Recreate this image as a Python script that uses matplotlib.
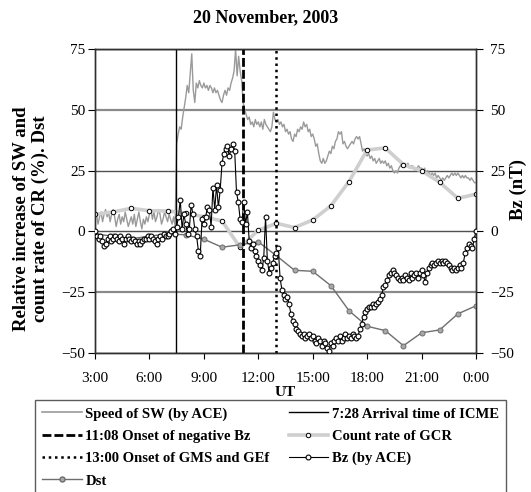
import numpy as np
import matplotlib
matplotlib.use("Agg")
import matplotlib.pyplot as plt
from matplotlib.lines import Line2D

plt.rcParams['font.family'] = ['Liberation Serif', 'DejaVu Serif']

# ---------------------------------------------
# data (hours UT, 3:00 .. 24:00)
# ---------------------------------------------

# speed of solar wind, relative increase (%), 5-minute steps from 3:00
sw_speed = [
    5, 7, 3, 6, 8, 4, 7, 9, 6, 8, 4, 7,
    9, 6, 2, 5, 7, 3, 6, 4, 8, 5, 2, 4,
    6, 3, 7, 2, 5, 8, 4, 1, 5, 3, 6, 4,
    7, 9, 5, 8, 4, 6, 9, 7, 3, 5, 8, 6,
    4, 7, 5, 3, 6, 2, 36, 40, 43, 42, 47, 51,
    55, 60, 57, 65, 73, 58, 53, 61, 59, 62, 60, 59,
    61, 59, 60, 58, 60, 59, 57, 59, 57, 58, 56, 54,
    53, 56, 58, 56, 59, 58, 61, 63, 66, 75, 64, 72,
    66, 62, 53, 50, 48, 46, 47, 44, 45, 43, 46, 44,
    45, 43, 45, 42, 46, 44, 43, 42, 41, 43, 49, 46,
    45, 46, 44, 45, 43, 44, 41, 42, 40, 41, 38, 37,
    40, 39, 42, 41, 43, 42, 45, 43, 44, 41, 42, 39,
    40, 38, 35, 36, 32, 29, 28, 30, 28, 29, 31, 33,
    32, 35, 34, 37, 38, 41, 40, 41, 36, 37, 35, 34,
    35, 36, 37, 36, 38, 39, 38, 39, 36, 33, 34, 32,
    31, 32, 30, 31, 29, 30, 28, 29, 30, 28, 29, 28,
    29, 27, 28, 26, 27, 25, 24, 25, 24, 26, 27, 28,
    27, 28, 27, 28, 26, 27, 27, 26, 25, 26, 27, 26,
    26, 25, 26, 24, 25, 24, 23, 24, 23, 24, 22, 23,
    22, 21, 22, 21, 22, 23, 22, 23, 24, 23, 24, 23,
    24, 23, 22, 23, 22, 23, 22, 22, 21, 22, 21, 20,
    20,
]

# Bz by ACE (nT), 6-minute steps from 3:00
bz = [
    0, -2, -3, -2, -4, -6, -5, -3, -2, -4,
    -3, -2, -3, -4, -2, -3, -5, -3, -2, -3,
    -4, -3, -4, -5, -4, -5, -4, -3, -3, -2,
    -3, -2, -3, -4, -5, -3, -2, -3, -1, -2,
    -2, -1, 0, 1, -1, 2, 6, 13, 1, 7,
    3, -1, 1, 11, 7, 1, -2, -8, -10, 5,
    3, 6, 10, 9, 2, 18, 9, 19, 10, 17,
    28, 32, 34, 35, 31, 34, 36, 33, 16, 12,
    5, 4, 12, 3, 8, -4, -7, -5, -8, -10,
    -12, -14, -16, -11, 6, -12, -17, -15, -13, -10,
    -9, -7, -19, -24, -26, -28, -27, -30, -34, -37,
    -38, -40, -41, -42, -43, -42, -44, -43, -42, -44,
    -43, -45, -46, -44, -45, -47, -45, -46, -48, -49,
    -46, -47, -45, -44, -45, -43, -45, -44, -42, -44,
    -43, -44, -42, -43, -44, -43, -40, -38, -35, -33,
    -32, -31, -31, -30, -31, -30, -29, -28, -26, -23,
    -22, -20, -18, -17, -16, -17, -18, -19, -20, -19,
    -20, -18, -19, -20, -17, -19, -18, -17, -19, -17,
    -16, -18, -21, -17, -15, -14, -13, -14, -13, -12,
    -13, -12, -13, -12, -13, -14, -15, -16, -15, -16,
    -15, -14, -15, -13, -9, -7, -5, -6, -7, -3,
    0,
]

# hourly values, 3:00 .. 24:00
gcr_rate = [7, 8, 9.5, 8.5, 8.4, 7.5, 6, 4.3, -6.6, 0.5, 3.3,
            1.6, 4.7, 10.5, 20.5, 33.5, 34.3, 27.5, 24.9, 20.2, 13.6, 15.3]
dst = [-1, -2, -3, -2, -1, -1.4, -3.2, -6.5, -5.5, -4.3, -10,
       -16, -16.4, -22.3, -32.6, -39, -40.8, -47, -41.7, -40.5, -33.9, -30.6]

t_sw = 3 + np.arange(len(sw_speed)) / 12
t_bz = 3 + np.arange(len(bz)) / 10
t_hour = 3 + np.arange(len(dst))

icme_time = 7 + 28 / 60
bz_onset = 11 + 8 / 60
gms_onset = 13.0

xticks = [3, 6, 9, 12, 15, 18, 21, 24]
xtick_labels = ["3:00", "6:00", "9:00", "12:00", "15:00", "18:00", "21:00", "0:00"]
yticks = [-50, -25, 0, 25, 50, 75]

dash_style = (0, (3.2, 1.1))
dot_style = (0, (1, 1.5))

# ---------------------------------------------
# plot
# ---------------------------------------------

fig = plt.figure(figsize=(5.31, 4.92), dpi=100)
ax = fig.add_axes([95 / 531, 1 - 353 / 492, (476 - 95) / 531, (353 - 49) / 492])

ax.plot(t_sw, sw_speed, color="#9a9a9a", lw=1.0, zorder=3)
ax.plot(t_hour, gcr_rate, color="#cfcfcf", lw=2.6, marker="o", ms=3.2,
        mfc="white", mec="black", mew=0.7, zorder=4)
ax.plot(t_hour, dst, color="#6e6e6e", lw=1.0, marker="o", ms=3.6,
        mfc="#a8a8a8", mec="#6e6e6e", mew=0.7, zorder=5)

ax.axvline(icme_time, color="black", lw=1.0, zorder=6)
ax.axvline(bz_onset, color="black", lw=2.0, ls=dash_style, zorder=6)
ax.axvline(gms_onset, color="black", lw=1.8, ls=dot_style, zorder=6)

ax.set_xlim(3, 24)
ax.set_ylim(-50, 75)
ax.set_xticks(xticks)
ax.set_xticklabels(xtick_labels)
ax.set_yticks(yticks)
ax.tick_params(axis="x", direction="out", length=4, pad=10, labelsize=11)
ax.tick_params(axis="y", direction="out", length=5, pad=2, labelsize=11)
ax.grid(axis="y", color="#505050", lw=1.0)
gl = ax.get_ygridlines()
for i in (1, 4):
    gl[i].set_color("#8a8a8a")
    gl[i].set_linewidth(1.6)
for s in ax.spines.values():
    s.set_color("#303030")
    s.set_linewidth(1.0)

ax2 = ax.twinx()
ax2.plot(t_bz, bz, color="black", lw=0.8, marker="o", ms=3.5,
         mfc="white", mec="black", mew=0.8, zorder=7)
ax2.set_ylim(-50, 75)
ax2.set_yticks(yticks)
ax2.tick_params(axis="y", direction="out", length=5, pad=5, labelsize=11)
for s in ax2.spines.values():
    s.set_color("#303030")
    s.set_linewidth(1.0)

fig.text(0.5, 1 - 18 / 492, "20 November, 2003", ha="center", va="center",
         fontsize=13, fontweight="bold")
fig.text(31 / 531, 1 - 219 / 492, "Relative increase of SW and\ncount rate of CR (%). Dst",
         rotation=90, ha="center", va="center", fontsize=13.5, fontweight="bold",
         multialignment="center", linespacing=1.15)
fig.text(518 / 531, 1 - 190 / 492, "Bz (nT)", rotation=90, ha="center", va="center",
         fontsize=13.5, fontweight="bold")
fig.text(285 / 531, 1 - 392 / 492, "UT", ha="center", va="center",
         fontsize=11, fontweight="bold")

handles = [
    Line2D([], [], color="#9a9a9a", lw=1.2),
    Line2D([], [], color="black", lw=2.0, ls=dash_style),
    Line2D([], [], color="black", lw=1.8, ls=dot_style),
    Line2D([], [], color="#6e6e6e", lw=1.0, marker="o", ms=3.6, mfc="#a8a8a8", mec="#6e6e6e"),
    Line2D([], [], color="black", lw=1.0),
    Line2D([], [], color="#cfcfcf", lw=2.6, marker="o", ms=3.2, mfc="white", mec="black", mew=0.7),
    Line2D([], [], color="black", lw=0.8, marker="o", ms=3.5, mfc="white", mec="black", mew=0.8),
]
labels = [
    "Speed of SW (by ACE)",
    "11:08 Onset of negative Bz",
    "13:00 Onset of GMS and GEf",
    "Dst",
    "7:28 Arrival time of ICME",
    "Count rate of GCR",
    "Bz (by ACE)",
]
leg = fig.legend(handles, labels, loc="upper left", bbox_to_anchor=(35 / 531, 1 - 400 / 492),
                 ncol=2, frameon=True, fancybox=False, borderaxespad=0,
                 prop={"size": 10.5, "weight": "bold"}, handlelength=2.7,
                 handletextpad=0.25, columnspacing=1.3, labelspacing=0.62, borderpad=0.5)
leg.get_frame().set_edgecolor("#333333")
leg.get_frame().set_linewidth(1.0)

fig.savefig("out.png", dpi=100)
